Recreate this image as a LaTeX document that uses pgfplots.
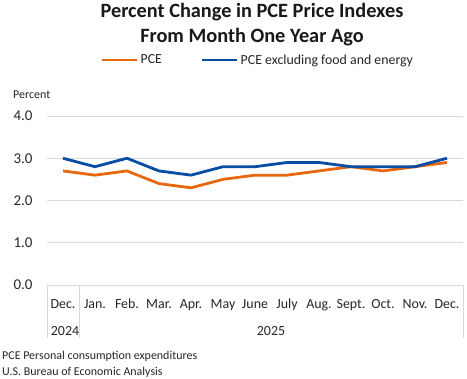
\documentclass[border=0pt]{standalone}
\usepackage{fontspec}
\setmainfont{Carlito}
\usepackage{pgfplots}
\pgfplotsset{compat=1.18}
\definecolor{pceor}{RGB}{232,104,16}
\definecolor{pcebl}{RGB}{8,76,164}
\definecolor{gridc}{RGB}{217,217,217}
\begin{document}
\begin{tikzpicture}[x=1bp,y=1bp]
\path[use as bounding box] (0,0) rectangle (467,378);
\begin{axis}[
  at={(47bp,93bp)}, anchor=south west,
  scale only axis, width=416bp, height=169bp,
  xmin=-0.5, xmax=12.5, ymin=0, ymax=4,
  ytick={0,1,2,3,4},
  xtick={0,...,12},
  xticklabels={Dec.,Jan.,Feb.,Mar.,Apr.,May,June,July,Aug.,Sept.,Oct.,Nov.,Dec.},
  axis line style={draw=none},
  major tick length=0pt,
  ymajorgrids, grid style={gridc, line width=1bp},
  /pgf/number format/fixed, /pgf/number format/fixed zerofill, /pgf/number format/precision=1,
  /pgf/number format/assume math mode=true,
  yticklabel style={anchor=east, xshift=-11bp, font=\fontsize{15}{18}\selectfont, text=black!85},
  xticklabel style={anchor=base, yshift=-23bp, font=\fontsize{14}{17}\selectfont, text=black!85},
  legend columns=2,
  legend style={at={(axis description cs:0.507,1.331)}, anchor=center, draw=none, fill=none,
    font=\fontsize{13.9}{16}\selectfont, text=black!85,
    /tikz/every even column/.append style={column sep=37bp}},
  legend image code/.code={\draw[#1, line width=2.8bp] (0bp,0bp) -- (35bp,0bp);},
]
\addplot[pceor, line width=2.8bp] coordinates {(0,2.7) (1,2.6) (2,2.7) (3,2.4) (4,2.3) (5,2.5) (6,2.6) (7,2.6) (8,2.7) (9,2.8) (10,2.7) (11,2.8) (12,2.9)};
\addlegendentry{PCE}
\addplot[pcebl, line width=2.8bp] coordinates {(0,3.0) (1,2.8) (2,3.0) (3,2.7) (4,2.6) (5,2.8) (6,2.8) (7,2.9) (8,2.9) (9,2.8) (10,2.8) (11,2.8) (12,3.0)};
\addlegendentry{PCE excluding food and energy}
\end{axis}
\draw[gridc, line width=1bp] (47,93) -- (47,40) (79,93) -- (79,40) (463,93) -- (463,40);
\node[font=\fontsize{14}{17}\selectfont, text=black!85] at (65,47) {2024};
\node[font=\fontsize{14}{17}\selectfont, text=black!85] at (271,47) {2025};
\node[font=\bfseries\fontsize{20.4}{24}\selectfont, text=black!90] at (252,366) {Percent Change in PCE Price Indexes};
\node[font=\bfseries\fontsize{20.4}{24}\selectfont, text=black!90] at (252,341) {From Month One Year Ago};
\node[anchor=west, inner sep=0pt, font=\fontsize{12}{14}\selectfont, text=black!85] at (13,283) {Percent};
\node[anchor=west, inner sep=0pt, font=\fontsize{12}{14}\selectfont, text=black!85] at (2,22) {PCE Personal consumption expenditures};
\node[anchor=west, inner sep=0pt, font=\fontsize{12}{14}\selectfont, text=black!85] at (2,6) {U.S. Bureau of Economic Analysis};
\end{tikzpicture}
\end{document}
